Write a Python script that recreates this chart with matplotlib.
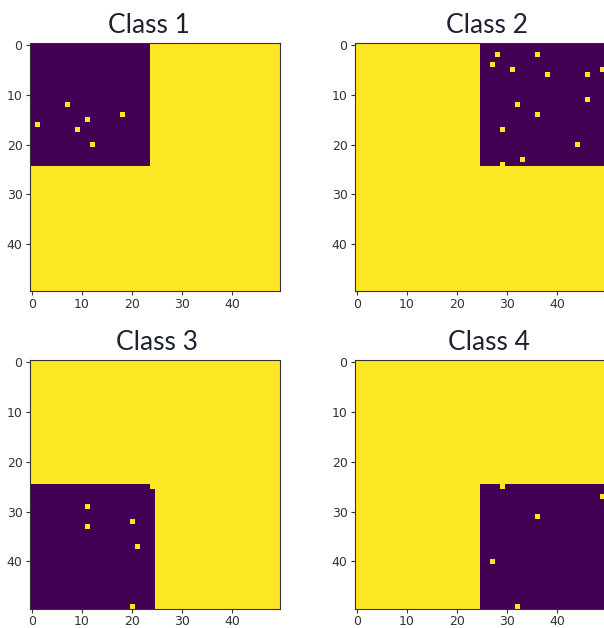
import numpy as np
import matplotlib.pyplot as plt

# 50x50 binary images, one dark quadrant per class with a few bright pixels inside
titles = ["Class 1", "Class 2", "Class 3", "Class 4"]
size = 50

# dark quadrant (row start, row end, col start, col end)
dark_1 = (0, 25, 0, 24)
dark_2 = (0, 25, 25, 50)
dark_3 = (25, 50, 0, 25)
dark_4 = (25, 50, 25, 50)

# bright pixels inside the dark quadrant as (row, col)
spots_1 = [(16, 1), (12, 7), (17, 9), (15, 11), (20, 12), (14, 18)]
spots_2 = [(2, 28), (4, 27), (5, 31), (2, 36), (6, 38), (6, 46), (5, 49),
           (11, 46), (12, 32), (14, 36), (17, 29), (20, 44), (23, 33), (24, 29)]
spots_3 = [(29, 11), (33, 11), (32, 20), (37, 21), (49, 20), (25, 24)]
spots_4 = [(25, 29), (27, 49), (31, 36), (40, 27), (49, 32)]


def make_img(dark, spots):
    img = np.ones((size, size))
    r0, r1, c0, c1 = dark
    img[r0:r1, c0:c1] = 0
    for r, c in spots:
        img[r, c] = 1
    return img


imgs = [make_img(dark_1, spots_1), make_img(dark_2, spots_2),
        make_img(dark_3, spots_3), make_img(dark_4, spots_4)]

W, H = 604, 628
fig = plt.figure(figsize=(W / 100, H / 100), dpi=100)

# axes boxes in pixels: left, top, right, bottom
boxes = [(29.5, 43, 279.5, 291), (354.5, 43, 604.5, 291),
         (29.5, 360, 279.5, 608.5), (354.5, 360, 604.5, 608.5)]
title_x = [0.478, 0.532, 0.512, 0.537]

for img, title, box, tx in zip(imgs, titles, boxes, title_x):
    l, t, r, b = box
    ax = fig.add_axes([l / W, 1 - b / H, (r - l) / W, (b - t) / H])
    ax.imshow(img, cmap='viridis', vmin=0, vmax=1, aspect='auto', interpolation='nearest')
    ax.set_xticks([0, 10, 20, 30, 40])
    ax.set_yticks([0, 10, 20, 30, 40])
    ax.tick_params(labelsize=9, colors='#333333', length=3, pad=2)
    for s in ax.spines.values():
        s.set_color('#333333')
    ax.set_title(title, fontsize=19, family=['Lato', 'DejaVu Sans'], color='#1e2230',
                 x=tx, pad=7)

fig.savefig('out.png', dpi=100)
